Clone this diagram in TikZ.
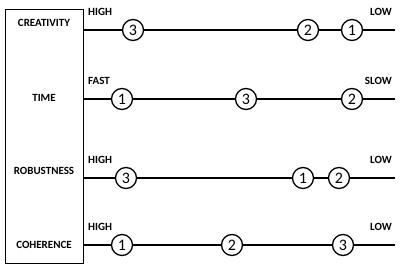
\documentclass[tikz,border=0pt]{standalone}
\usepackage{fontspec}
\setmainfont{Carlito}
\usepackage{tikz}
\usetikzlibrary{positioning}

\tikzset{
  rank/.style={draw, line width=1.3pt, fill=white, circle, minimum size=21pt,
    inner sep=0pt, font=\fontsize{16}{16}\selectfont},
  axis/.style={line width=2.8pt},
  rowlabel/.style={font=\fontsize{11}{11}\selectfont\bfseries},
  endlabel/.style={font=\fontsize{11}{11}\selectfont\bfseries, inner sep=0pt}
}

\begin{document}
\begin{tikzpicture}[x=1pt, y=-1pt]
  \useasboundingbox (0,0) rectangle (400,274);
  \draw[line width=0.8pt] (5,9) rectangle (83,263);
  % row label, line height, end labels, place of ranks 1, 2, 3
  \foreach \i/\lbl/\ly/\y/\lo/\hi/\a/\b/\c in {
      1/CREATIVITY/23/30/HIGH/LOW/352/308/133,
      2/TIME/98/99/FAST/SLOW/122/352/246,
      3/ROBUSTNESS/171/178/HIGH/LOW/303/339/126,
      4/COHERENCE/245/245/HIGH/LOW/122/232/343}{
    \node[rowlabel] (row\i) at (44,\ly) {\lbl};
    \coordinate (s\i) at (83,\y);
    \coordinate (e\i) at (395,\y);
    \draw[axis] (s\i) -- (e\i);
    \node[endlabel, anchor=west] (lo\i) at (88,\y-18) {\lo};
    \node[endlabel, anchor=east] (hi\i) at (392,\y-18) {\hi};
    \node[rank] (r\i-1) at (\a,\y) {1};
    \node[rank] (r\i-2) at (\b,\y) {2};
    \node[rank] (r\i-3) at (\c,\y) {3};
  }
\end{tikzpicture}
\end{document}
